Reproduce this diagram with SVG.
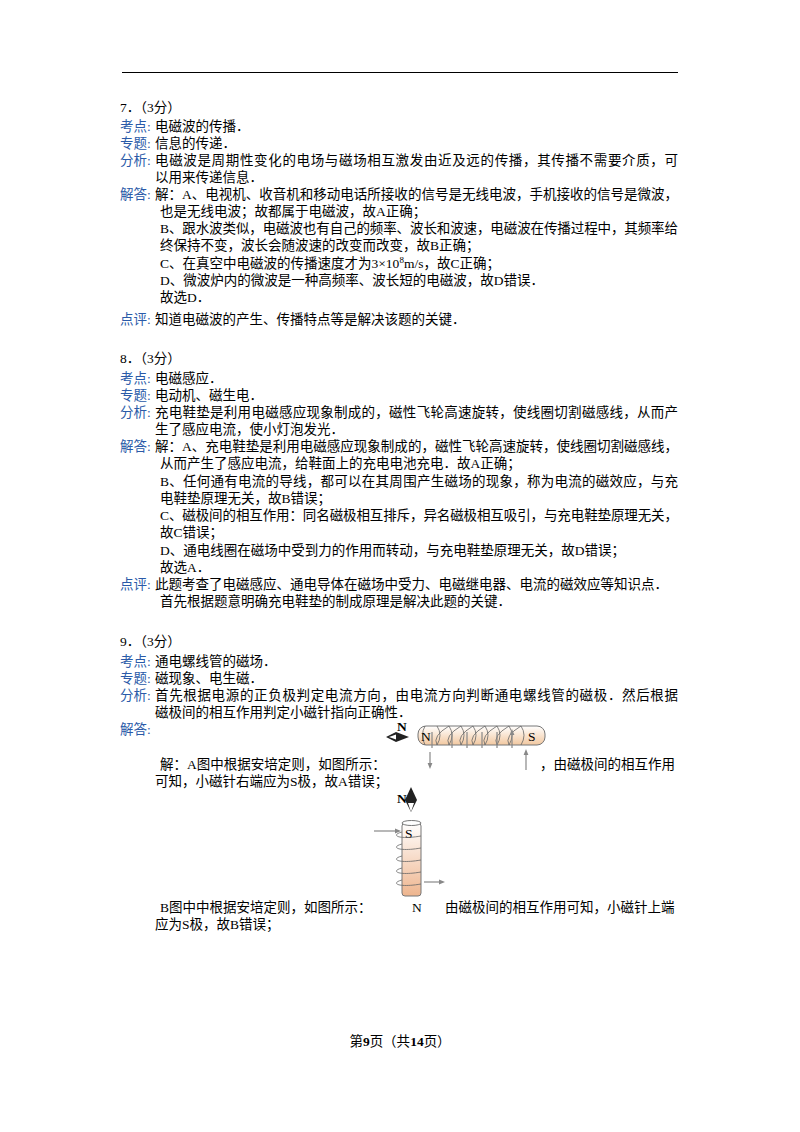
<svg xmlns="http://www.w3.org/2000/svg" width="800" height="1132" viewBox="0 0 800 1132">
<defs>
<style>
text{font-family:"Liberation Serif","Noto Sans CJK SC",serif;font-size:13.5px;fill:#000}
.l{fill:#2a5aa8}
.w{stroke:#666;fill:none;stroke-width:0.8}
.g{stroke:#888;stroke-width:1.2;fill:none}
</style>
<linearGradient id="cu" x1="0" y1="0" x2="0" y2="1"><stop offset="0" stop-color="#fff"/><stop offset="1" stop-color="#f2c8a0"/></linearGradient>
<linearGradient id="cv" x1="0" y1="0" x2="0" y2="1"><stop offset="0" stop-color="#fff"/><stop offset="1" stop-color="#eeb58e"/></linearGradient>
<marker id="a" viewBox="0 0 10 10" refX="5" refY="5" markerWidth="5" markerHeight="5" orient="auto"><path d="M0,1 L10,5 L0,9z" fill="#888"/></marker>
</defs>
<rect width="800" height="1132" fill="#fff"/>
<line x1="122" y1="72.5" x2="678" y2="72.5" stroke="#000" stroke-width="1.2"/>

<text x="120" y="112">7．（3分）</text>
<text class="l" x="120" y="131">考点:</text><text x="155" y="131">电磁波的传播．</text>
<text class="l" x="120" y="148">专题:</text><text x="155" y="148">信息的传递．</text>
<text class="l" x="120" y="165">分析:</text><text x="155" y="165" textLength="523">电磁波是周期性变化的电场与磁场相互激发由近及远的传播，其传播不需要介质，可</text>
<text x="155" y="182">以用来传递信息．</text>
<text class="l" x="120" y="199">解答:</text><text x="155" y="199" textLength="523">解：A、电视机、收音机和移动电话所接收的信号是无线电波，手机接收的信号是微波，</text>
<text x="160" y="216">也是无线电波；故都属于电磁波，故A正确；</text>
<text x="160" y="233" textLength="518">B、跟水波类似，电磁波也有自己的频率、波长和波速，电磁波在传播过程中，其频率给</text>
<text x="160" y="250">终保持不变，波长会随波速的改变而改变，故B正确；</text>
<text x="160" y="268">C、在真空中电磁波的传播速度才为3×10<tspan font-size="9" dy="-5">8</tspan><tspan dy="5">m/s，故C正确；</tspan></text>
<text x="160" y="285">D、微波炉内的微波是一种高频率、波长短的电磁波，故D错误．</text>
<text x="160" y="302">故选D．</text>
<text class="l" x="120" y="324">点评:</text><text x="155" y="324">知道电磁波的产生、传播特点等是解决该题的关键．</text>

<text x="120" y="363">8．（3分）</text>
<text class="l" x="120" y="383">考点:</text><text x="155" y="383">电磁感应．</text>
<text class="l" x="120" y="400">专题:</text><text x="155" y="400">电动机、磁生电．</text>
<text class="l" x="120" y="417">分析:</text><text x="155" y="417" textLength="523">充电鞋垫是利用电磁感应现象制成的，磁性飞轮高速旋转，使线圈切割磁感线，从而产</text>
<text x="155" y="434">生了感应电流，使小灯泡发光．</text>
<text class="l" x="120" y="451">解答:</text><text x="155" y="451" textLength="523">解：A、充电鞋垫是利用电磁感应现象制成的，磁性飞轮高速旋转，使线圈切割磁感线，</text>
<text x="160" y="468">从而产生了感应电流，给鞋面上的充电电池充电．故A正确；</text>
<text x="160" y="486" textLength="518">B、任何通有电流的导线，都可以在其周围产生磁场的现象，称为电流的磁效应，与充</text>
<text x="160" y="503">电鞋垫原理无关，故B错误；</text>
<text x="160" y="520" textLength="518">C、磁极间的相互作用：同名磁极相互排斥，异名磁极相互吸引，与充电鞋垫原理无关，</text>
<text x="160" y="537">故C错误；</text>
<text x="160" y="555">D、通电线圈在磁场中受到力的作用而转动，与充电鞋垫原理无关，故D错误；</text>
<text x="160" y="572">故选A．</text>
<text class="l" x="120" y="589">点评:</text><text x="155" y="589">此题考查了电磁感应、通电导体在磁场中受力、电磁继电器、电流的磁效应等知识点．</text>
<text x="160" y="606">首先根据题意明确充电鞋垫的制成原理是解决此题的关键．</text>

<text x="120" y="646">9．（3分）</text>
<text class="l" x="120" y="666">考点:</text><text x="155" y="666">通电螺线管的磁场．</text>
<text class="l" x="120" y="683">专题:</text><text x="155" y="683">磁现象、电生磁．</text>
<text class="l" x="120" y="700">分析:</text><text x="155" y="700" textLength="523">首先根据电源的正负极判定电流方向，由电流方向判断通电螺线管的磁极．然后根据</text>
<text x="155" y="717">磁极间的相互作用判定小磁针指向正确性．</text>
<text class="l" x="120" y="734">解答:</text>

<g id="fig-a">
<rect x="418" y="726" width="127" height="19" rx="8" fill="url(#cu)" stroke="#777"/>
<path class="w" d="M425,726 q-5,9 0,19 M437,726 q6,9 0,19 q-5,-9 12,-19 q6,9 0,19 q-5,-9 12,-19 q6,9 0,19 q-5,-9 12,-19 q6,9 0,19 q-5,-9 12,-19 q6,9 0,19 q-5,-9 12,-19 q6,9 0,19 q-5,-9 12,-19 q6,9 0,19 q-5,-9 12,-19 q6,9 0,19"/>
<text x="421" y="741" font-size="12">N</text><text x="528" y="741" font-size="12">S</text>
<path class="g" d="M432,748 V732 M452,748 V732 M467,748 V732 M482,748 V732 M497,748 V732 M512,748 V732" marker-end="url(#a)"/>
<path class="g" d="M430,752 V766" marker-end="url(#a)"/>
<path class="g" d="M526,770 V752" marker-end="url(#a)"/>
<path d="M386,737 L396,732 L409,737 L396,742z" fill="#222"/>
<path d="M389,737 L396,734.5 L396,739.5z" fill="#fff"/>
<text x="397" y="731" font-size="8" font-weight="bold" font-family="Liberation Sans,sans-serif">N</text>
</g>

<text x="160" y="769">解：A图中根据安培定则，如图所示：</text><text x="540" y="769">，由磁极间的相互作用</text>
<text x="155" y="786">可知，小磁针右端应为S极，故A错误；</text>

<g id="fig-b">
<path d="M411,812 L405,800 L411,787 L417,800z" fill="#222"/>
<path d="M408,803 L411,812 L414,803z" fill="#fff"/>
<text x="397" y="803" font-size="10" font-weight="bold" font-family="Liberation Sans,sans-serif">N</text>
<rect x="402" y="823" width="19" height="73" rx="3" fill="url(#cv)" stroke="#777"/>
<ellipse cx="411.5" cy="823" rx="9.5" ry="2.5" fill="#fff" stroke="#777"/>
<text x="405" y="838" font-size="12">S</text>
<path class="w" d="M402,832 c-12,3 -4,8 19,4 M402,844 c-12,3 -4,8 19,4 M402,856 c-12,3 -4,8 19,4 M402,868 c-12,3 -4,8 19,4 M402,880 c-12,3 -4,8 19,4"/>
<path class="g" d="M374,831 H398" marker-end="url(#a)"/>
<path class="g" d="M424,882 H442" marker-end="url(#a)"/>
</g>

<text x="160" y="912">B图中中根据安培定则，如图所示：</text><text x="412" y="912">N</text><text x="445" y="912">由磁极间的相互作用可知，小磁针上端</text>
<text x="155" y="929">应为S极，故B错误；</text>

<text x="400" y="1046" text-anchor="middle" font-size="12.5">第<tspan font-weight="bold">9</tspan>页（共<tspan font-weight="bold">14</tspan>页）</text>
</svg>
